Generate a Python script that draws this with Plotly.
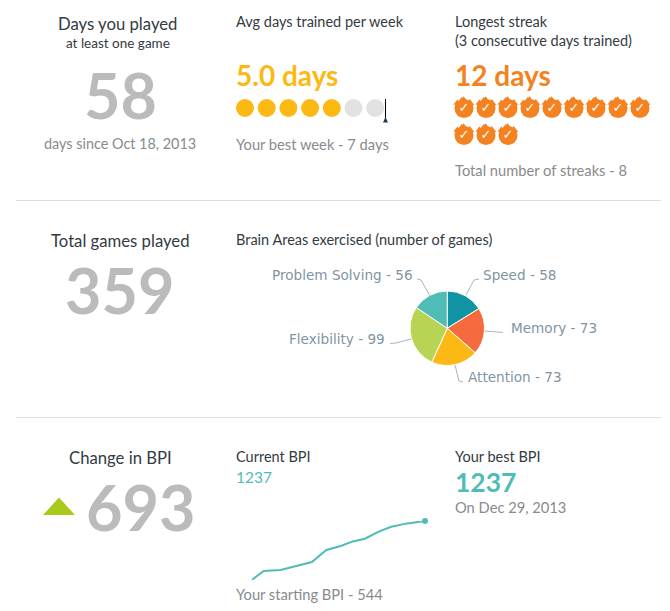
import plotly.graph_objects as go

W, H = 670, 611
FONT = "Lato"

area_names = ["Speed", "Memory", "Attention", "Flexibility", "Problem Solving"]
area_games = [58, 73, 73, 99, 56]
area_colors = ["#1093A3", "#F56B3D", "#FDB913", "#B7D455", "#4FBDB5"]

bpi_days = [0, 5, 12, 19, 25, 31, 37, 42, 47, 53, 58, 64, 72]
bpi_values = [544, 650, 661, 708, 755, 896, 943, 997, 1029, 1115, 1170, 1206, 1237]

week_days = list(range(7))
week_colors = ["#FDB913"] * 5 + ["#E2E2E2"] * 2

streak_col = [0, 1, 2, 3, 4, 5, 6, 7, 8, 0, 1, 2]
streak_row = [0, 0, 0, 0, 0, 0, 0, 0, 0, 1, 1, 1]


def px(x0, x1):
    return [x0 / W, x1 / W]


def py(y0, y1):
    return [1 - y1 / H, 1 - y0 / H]


fig = go.Figure()

fig.add_trace(go.Pie(
    labels=area_names, values=area_games, sort=False, direction="clockwise", rotation=0,
    marker=dict(colors=area_colors, line=dict(color="#FFFFFF", width=1)),
    textinfo="none", hoverinfo="label+value", showlegend=False,
    domain=dict(x=px(410, 484.5), y=py(291, 365.5)),
))

fig.add_trace(go.Scatter(
    x=bpi_days, y=bpi_values, mode="lines", line=dict(color="#4FBDB5", width=2),
    xaxis="x", yaxis="y", showlegend=False, hoverinfo="x+y", cliponaxis=False,
))
fig.add_trace(go.Scatter(
    x=bpi_days[-1:], y=bpi_values[-1:], mode="markers", marker=dict(color="#4FBDB5", size=6),
    xaxis="x", yaxis="y", showlegend=False, hoverinfo="x+y", cliponaxis=False,
))

fig.add_trace(go.Scatter(
    x=week_days, y=[0] * 7, mode="markers",
    marker=dict(color=week_colors, size=18, line=dict(width=0)),
    xaxis="x2", yaxis="y2", showlegend=False, hoverinfo="skip", cliponaxis=False,
))

for dx, dy, size in [(-0.02, -0.32, 7), (0.26, -0.2, 8), (-0.3, -0.2, 7), (-0.1, -0.26, 9)]:
    fig.add_trace(go.Scatter(
        x=[c + dx for c in streak_col], y=[r + dy for r in streak_row], mode="markers",
        marker=dict(color="#F58220", size=size, symbol="triangle-up", line=dict(width=0)),
        xaxis="x3", yaxis="y3", showlegend=False, hoverinfo="skip", cliponaxis=False,
    ))
fig.add_trace(go.Scatter(
    x=streak_col, y=streak_row, mode="markers+text",
    marker=dict(color="#F58220", size=19, line=dict(width=0)),
    text=["✓"] * len(streak_col), textposition="middle center",
    textfont=dict(color="#FFFFFF", size=13, family="DejaVu Sans"),
    xaxis="x3", yaxis="y3", showlegend=False, hoverinfo="skip", cliponaxis=False,
))


def hidden(**kw):
    return dict(visible=False, fixedrange=True, **kw)


layout_axes = dict(
    xaxis=hidden(domain=px(251.7, 425), range=[0, 72]),
    yaxis=hidden(domain=py(521, 580), range=[544, 1237]),
    xaxis2=hidden(domain=px(234.15, 386.05), range=[-0.5, 6.5]),
    yaxis2=hidden(domain=py(96, 120), range=[-0.5, 0.5]),
    xaxis3=hidden(domain=px(453, 651), range=[-0.5, 8.5]),
    yaxis3=hidden(domain=py(95, 149), range=[1.5, -0.5]),
)

INK = "#333B42"
GREY = "#888B8D"
BIG = "#BBBBBB"
texts = [
    ("Days you played", 118, 24, 16.7, INK, "center", False),
    ("at least one game", 118, 43, 13.5, INK, "center", False),
    ("58", 120, 95, 63, BIG, "center", True),
    ("days since Oct 18, 2013", 120, 143, 14.4, GREY, "center", False),
    ("Avg days trained per week", 234, 22, 14.5, INK, "left", False),
    ("5.0 days", 234, 75, 28, "#FDB913", "left", True),
    ("Your best week - 7 days", 234, 144, 14.7, GREY, "left", False),
    ("Longest streak", 453, 22, 14.5, INK, "left", False),
    ("(3 consecutive days trained)", 453, 40, 14.5, INK, "left", False),
    ("12 days", 453, 75, 28, "#F58220", "left", True),
    ("Total number of streaks - 8", 453, 170, 14.7, GREY, "left", False),
    ("Total games played", 120, 241, 16.7, INK, "center", False),
    ("359", 120, 289, 63, BIG, "center", True),
    ("Brain Areas exercised (number of games)", 234, 239, 14.5, INK, "left", False),
    ("Change in BPI", 120, 458, 16.7, INK, "center", False),
    ("693", 141, 506, 63, BIG, "center", True),
    ("Current BPI", 234, 456, 14.5, INK, "left", False),
    ("1237", 234, 477, 15.5, "#4FBDB5", "left", False),
    ("Your best BPI", 453, 456, 14.5, INK, "left", False),
    ("1237", 453, 482, 26.5, "#4FBDB5", "left", True),
    ("On Dec 29, 2013", 453, 507, 14.7, GREY, "left", False),
    ("Your starting BPI - 544", 234, 594, 14.7, GREY, "left", False),
]
annotations = [
    dict(text=f"<b>{t}</b>" if b else t, x=x / W, y=1 - y / H, xref="paper", yref="paper",
         xanchor=a, yanchor="middle", showarrow=False, align=a,
         font=dict(family=FONT, size=s, color=c))
    for t, x, y, s, c, a, b in texts
]

PIE_FONT = dict(family="DejaVu Sans", size=13.6, color="#7F95A3")
pie_labels = [
    (f"{area_names[0]} - {area_games[0]}", 481, 275, "left"),
    (f"{area_names[1]} - {area_games[1]}", 509, 328, "left"),
    (f"{area_names[2]} - {area_games[2]}", 466, 377, "left"),
    (f"{area_names[3]} - {area_games[3]}", 387, 339, "right"),
    (f"{area_names[4]} - {area_games[4]}", 415, 275, "right"),
]
for t, x, y, a in pie_labels:
    annotations.append(dict(text=t, x=x / W, y=1 - y / H, xref="paper", yref="paper",
                            xanchor=a, yanchor="middle", showarrow=False, font=PIE_FONT))


def line_shape(d, color, width=1):
    return dict(type="path", path=d, xref="paper", yref="paper",
                line=dict(color=color, width=width))


def P(pts):
    return "M " + " L ".join(f"{x / W:.5f},{1 - y / H:.5f}" for x, y in pts)


shapes = [
    line_shape(P([(16, 200.5), (661, 200.5)]), "#DDDDDD"),
    line_shape(P([(16, 417.5), (661, 417.5)]), "#DDDDDD"),
    line_shape(P([(466, 295), (474, 280), (479, 279)]), "#A9B6BC"),
    line_shape(P([(485, 331), (503, 332.5)]), "#A9B6BC"),
    line_shape(P([(455, 365), (459, 381), (463, 382)]), "#A9B6BC"),
    line_shape(P([(411, 339), (396, 343), (390, 343.5)]), "#A9B6BC"),
    line_shape(P([(430, 296), (421, 280), (417, 279)]), "#A9B6BC"),
    line_shape(P([(385.5, 99), (385.5, 121)]), "#000000"),
    dict(type="path", path=P([(383, 122.5), (385.5, 117), (388, 122.5)]) + " Z",
         xref="paper", yref="paper", fillcolor="#1F3A4D", line=dict(width=0)),
    dict(type="path", path=P([(43, 515), (59, 497.5), (75, 515)]) + " Z",
         xref="paper", yref="paper", fillcolor="#A8CA1A", line=dict(width=0)),
]

fig.update_layout(
    width=W, height=H, margin=dict(l=0, r=0, t=0, b=0),
    paper_bgcolor="#FFFFFF", plot_bgcolor="#FFFFFF",
    annotations=annotations, shapes=shapes, showlegend=False,
    **layout_axes,
)

fig.write_html("out.html", config=dict(displayModeBar=False),
               post_script="document.body.style.margin='0';document.documentElement.style.overflow='hidden';")
